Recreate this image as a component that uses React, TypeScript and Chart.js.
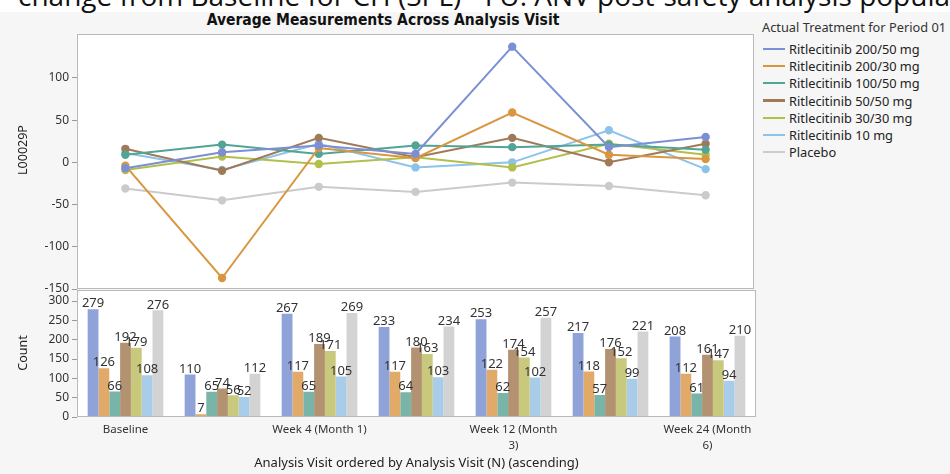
import React, { useEffect, useRef } from "react";
import { Chart, registerables } from "chart.js";
Chart.register(...registerables);

const FONT = "'Noto Sans', 'Open Sans', sans-serif";

const visits = [
  "Baseline",
  "Week 2",
  "Week 4 (Month 1)",
  "Week 8 (Month 2)",
  "Week 12 (Month 3)",
  "Week 16 (Month 4)",
  "Week 24 (Month 6)",
];
const visitTickLines: string[][] = [
  ["Baseline"],
  [""],
  ["Week 4 (Month 1)"],
  [""],
  ["Week 12 (Month", "3)"],
  [""],
  ["Week 24 (Month", "6)"],
];

const treatments = [
  "Ritlecitinib 200/50 mg",
  "Ritlecitinib 200/30 mg",
  "Ritlecitinib 100/50 mg",
  "Ritlecitinib 50/50 mg",
  "Ritlecitinib 30/30 mg",
  "Ritlecitinib 10 mg",
  "Placebo",
];
const lineColors = ["#7b8fd4", "#d9963f", "#52a494", "#a07a56", "#b3bf4b", "#8bc3ea", "#cbcbcb"];
const barColors = ["#8fa3d8", "#e1aa68", "#79b4a8", "#b39272", "#c8c97c", "#a9cde9", "#d3d3d3"];

// mean change values per visit
const mean200_50 = [-7, 12, 20, 10, 137, 18, 30];
const mean200_30 = [-4, -137, 17, 5, 59, 9, 4];
const mean100_50 = [9, 21, 10, 20, 18, 21, 15];
const mean50_50 = [16, -10, 29, 6, 29, 0, 22];
const mean30_30 = [-9, 7, -2, 6, -6, 22, 9];
const mean10 = [11, -9, 22, -6, 0, 38, -8];
const meanPlacebo = [-31, -45, -29, -35, -24, -28, -39];

// counts per visit
const count200_50 = [279, 110, 267, 233, 253, 217, 208];
const count200_30 = [126, 7, 117, 117, 122, 118, 112];
const count100_50 = [66, 65, 65, 64, 62, 57, 61];
const count50_50 = [192, 74, 189, 180, 174, 176, 161];
const count30_30 = [179, 56, 171, 163, 154, 152, 147];
const count10 = [108, 52, 105, 103, 102, 99, 94];
const countPlacebo = [276, 112, 269, 234, 257, 221, 210];

const lineTicks = [-150, -100, -50, 0, 50, 100];
const countTicks = [0, 50, 100, 150, 200, 250, 300];

const means = [mean200_50, mean200_30, mean100_50, mean50_50, mean30_30, mean10, meanPlacebo];
const counts = [count200_50, count200_30, count100_50, count50_50, count30_30, count10, countPlacebo];

const framePlugin = {
  id: "frame",
  beforeDraw(chart: any) {
    const { ctx, chartArea: a } = chart;
    ctx.save();
    ctx.fillStyle = "#ffffff";
    ctx.fillRect(a.left, a.top, a.right - a.left, a.bottom - a.top);
    ctx.restore();
  },
  afterDraw(chart: any) {
    const { ctx, chartArea: a } = chart;
    ctx.save();
    ctx.strokeStyle = "#b9b9b9";
    ctx.lineWidth = 1;
    ctx.strokeRect(Math.round(a.left) + 0.5, Math.round(a.top) + 0.5, Math.round(a.right - a.left) - 1, Math.round(a.bottom - a.top) - 1);
    ctx.restore();
  },
};

const barLabelPlugin = {
  id: "barLabels",
  afterDatasetsDraw(chart: any) {
    const { ctx } = chart;
    ctx.save();
    ctx.font = `13px ${FONT}`;
    ctx.fillStyle = "#333333";
    ctx.textAlign = "center";
    ctx.textBaseline = "bottom";
    chart.data.datasets.forEach((ds: any, di: number) => {
      const meta = chart.getDatasetMeta(di);
      meta.data.forEach((el: any, i: number) => {
        ctx.fillText(String(ds.data[i]), el.x, el.y + 1);
      });
    });
    ctx.restore();
  },
};

const yTickCommon = {
  color: "#333333",
  font: { family: FONT, size: 12 },
  padding: 3,
};

export default function App() {
  const lineRef = useRef<HTMLCanvasElement>(null);
  const barRef = useRef<HTMLCanvasElement>(null);

  useEffect(() => {
    const lineChart = new Chart(lineRef.current!, {
      type: "line",
      data: {
        labels: visits,
        datasets: treatments.map((t, i) => ({
          label: t,
          data: means[i],
          borderColor: lineColors[i],
          backgroundColor: lineColors[i],
          pointBackgroundColor: lineColors[i],
          pointBorderColor: lineColors[i],
          borderWidth: 2,
          pointRadius: 3.2,
          tension: 0,
        })),
      },
      options: {
        animation: false,
        responsive: false,
        devicePixelRatio: 1,
        layout: { padding: { top: 34, bottom: 11, left: 0, right: 4 } },
        plugins: { legend: { display: false }, tooltip: { enabled: false } },
        scales: {
          x: { type: "category", offset: true, display: false },
          y: {
            min: -150,
            max: 152,
            afterBuildTicks: (s: any) => {
              s.ticks = lineTicks.map((v) => ({ value: v }));
            },
            afterFit: (s: any) => {
              s.width = 77;
            },
            grid: { drawOnChartArea: false, drawTicks: true, tickLength: 5, color: "#9a9a9a" },
            border: { display: false },
            ticks: yTickCommon,
          },
        },
      },
      plugins: [framePlugin],
    } as any);

    const barChart = new Chart(barRef.current!, {
      type: "bar",
      data: {
        labels: visits,
        datasets: treatments.map((t, i) => ({
          label: t,
          data: counts[i],
          backgroundColor: barColors[i],
          borderWidth: 0,
          categoryPercentage: 0.78,
          barPercentage: 1,
        })),
      },
      options: {
        animation: false,
        responsive: false,
        devicePixelRatio: 1,
        layout: { padding: { top: 9, bottom: 0, left: 0, right: 4 } },
        plugins: { legend: { display: false }, tooltip: { enabled: false } },
        scales: {
          x: {
            offset: true,
            grid: { display: false, drawTicks: false },
            border: { display: false },
            afterFit: (s: any) => {
              s.height = 57;
            },
            ticks: {
              autoSkip: false,
              maxRotation: 0,
              minRotation: 0,
              padding: 4,
              color: "#333333",
              font: { family: FONT, size: 11.5, lineHeight: 1.45 },
              callback: (_v: any, i: number) => visitTickLines[i],
            },
          },
          y: {
            min: 0,
            max: 328,
            afterBuildTicks: (s: any) => {
              s.ticks = countTicks.map((v) => ({ value: v }));
            },
            afterFit: (s: any) => {
              s.width = 77;
            },
            grid: { drawOnChartArea: false, drawTicks: true, tickLength: 5, color: "#9a9a9a" },
            border: { display: false },
            ticks: yTickCommon,
          },
        },
      },
      plugins: [framePlugin, barLabelPlugin],
    } as any);

    return () => {
      lineChart.destroy();
      barChart.destroy();
    };
  }, []);

  const abs = (o: React.CSSProperties): React.CSSProperties => ({ position: "absolute", ...o });

  return (
    <div
      style={{
        position: "fixed",
        left: 0,
        top: 0,
        width: 950,
        height: 474,
        overflow: "hidden",
        background: "#f6f6f6",
        fontFamily: FONT,
        color: "#222",
      }}
    >
      <div style={abs({ left: 0, top: 0, width: 950, height: 12, background: "#ffffff" })} />
      <div
        style={abs({
          left: 18,
          top: -24,
          fontSize: 28,
          whiteSpace: "nowrap",
          color: "#111",
          fontFamily: "'Open Sans', 'Noto Sans', sans-serif",
        })}
      >
        change from Baseline for CH (SPL) - FU: ANV post-safety analysis popula
      </div>
      <div
        style={abs({
          left: 0,
          width: 766,
          top: 11,
          textAlign: "center",
          fontFamily: "'Liberation Sans Narrow', 'DejaVu Sans Condensed', sans-serif",
          fontWeight: "bold",
          fontSize: 15.5,
          color: "#111",
        })}
      >
        Average Measurements Across Analysis Visit
      </div>
      <canvas ref={lineRef} width={760} height={300} style={abs({ left: 0, top: 0, width: 760, height: 300 })} />
      <canvas ref={barRef} width={760} height={194} style={abs({ left: 0, top: 280, width: 760, height: 194 })} />
      <div
        style={abs({
          left: 22,
          top: 150,
          transform: "translate(-50%, -50%) rotate(-90deg)",
          fontSize: 12.5,
          whiteSpace: "nowrap",
        })}
      >
        L00029P
      </div>
      <div
        style={abs({
          left: 22,
          top: 353,
          transform: "translate(-50%, -50%) rotate(-90deg)",
          fontSize: 12.5,
          whiteSpace: "nowrap",
        })}
      >
        Count
      </div>
      <div style={abs({ left: 77, width: 679, top: 453, textAlign: "center", fontSize: 13, whiteSpace: "nowrap" })}>
        Analysis Visit ordered by Analysis Visit (N) (ascending)
      </div>
      <div style={abs({ left: 762, top: 18, fontSize: 12.8, whiteSpace: "nowrap", color: "#333" })}>
        Actual Treatment for Period 01
      </div>
      {treatments.map((t, i) => (
        <div
          key={t}
          style={abs({ left: 763, top: 40 + i * 17.2, height: 18, display: "flex", alignItems: "center", whiteSpace: "nowrap" })}
        >
          <div style={{ width: 22, height: i === 3 ? 3 : 2, background: lineColors[i], marginRight: 4 }} />
          <span style={{ fontSize: 12.8, color: "#222" }}>{t}</span>
        </div>
      ))}
    </div>
  );
}
